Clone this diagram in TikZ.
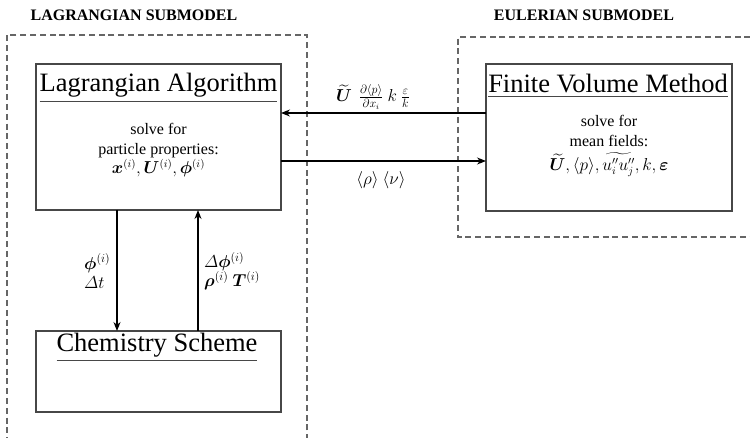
\documentclass[tikz,border=0pt]{standalone}
\usepackage{amsmath,bm}
\usepackage{fontspec}
\setmainfont{Liberation Serif}
\usetikzlibrary{arrows.meta}
\begin{document}
\begin{tikzpicture}[x=1pt,y=-1pt,
  box/.style={draw=black!72, line width=1.4pt, inner sep=0pt, outer sep=0pt},
  title/.style={font=\fontsize{26.5}{30}\selectfont, inner sep=0pt, outer sep=0pt, anchor=base},
  uline/.style={draw=black!72, line width=1.4pt},
  body/.style={font=\fontsize{16}{19.5}\selectfont, align=center, inner sep=0pt},
  lbl/.style={font=\fontsize{16.5}{19}\selectfont, align=left, inner sep=0pt},
  sub/.style={draw=black!60, line width=1.3pt, dash pattern=on 6pt off 3.8pt},
  flow/.style={draw=black, line width=1.2pt, -{Stealth[length=9pt,width=7pt]}},
  head/.style={font=\bfseries\fontsize{16}{18}\selectfont, inner sep=0pt}]
\useasboundingbox (0,0) rectangle (750,438);
\clip (0,0) rectangle (750,438);

% submodel frames
\draw[sub] (307,450) -- (307,35) -- (7,35) -- (7,450);
\draw[sub] (770,37) -- (458,37) -- (458,237) -- (770,237);
\node[head] (hl) at (134,15) {LAGRANGIAN SUBMODEL};
\node[head] (he) at (584,15) {EULERIAN SUBMODEL};

% boxes
\node[box, minimum width=245pt, minimum height=146pt] (lag) at (158.5,137) {};
\node[box, minimum width=246pt, minimum height=147pt] (fvm) at (609,137.5) {};
\node[box, minimum width=245pt, minimum height=81pt] (chem) at (158.5,371.5) {};

% titles
\node[title] (lagt) at (158.5,92) {Lagrangian Algorithm};
\draw[uline] ([yshift=-4pt]lagt.south west) -- ([yshift=-4pt]lagt.south east);
\node[title] (fvmt) at (608,93) {Finite Volume Method};
\draw[uline] ([yshift=-3pt]fvmt.south west) -- ([yshift=-3pt]fvmt.south east);
\node[title] (chemt) at (157,352) {Chemistry Scheme};
\draw[uline] ([yshift=-2.5pt]chemt.south west) -- ([yshift=-2.5pt]chemt.south east);

% body texts
\node[body] (lagb) at (158.5,150.5) {solve for\\particle properties:\\$\bm{x}^{(i)}, \bm{U}^{(i)}, \bm{\phi}^{(i)}$};
\node[body] (fvmb) at (609,146) {solve for\\mean fields:\\[5pt]$\widetilde{\bm{U}}, \langle p\rangle, \widetilde{u_i''u_j''}, k, \bm{\varepsilon}$};

% horizontal exchange
\draw[flow] ([yshift=24.5pt]fvm.west) coordinate (a1) -- (a1 -| lag.east);
\draw[flow] ([yshift=-24pt]lag.east) coordinate (a2) -- (a2 -| fvm.west);
\node[lbl] (ltop) at (373,97) {$\widetilde{\bm U}\ \,\frac{\partial\langle p\rangle}{\partial x_i}\ k\ \frac{\varepsilon}{k}$};
\node[lbl] (lbot) at (381,180) {$\langle\rho\rangle\ \langle\nu\rangle$};

% vertical exchange
\draw[flow] ([xshift=-41.5pt]lag.south) coordinate (d1) -- (d1 |- chem.north);
\draw[flow] ([xshift=39.5pt]chem.north) coordinate (u1) -- (u1 |- lag.south);
\node[lbl, anchor=west] (ld) at (84,271) {$\bm{\phi}^{(i)}$\\$\varDelta t$};
\node[lbl, anchor=west] (lu) at (204,271) {$\varDelta\bm{\phi}^{(i)}$\\$\bm{\rho}^{(i)}\ \bm{T}^{(i)}$};
\end{tikzpicture}
\end{document}
